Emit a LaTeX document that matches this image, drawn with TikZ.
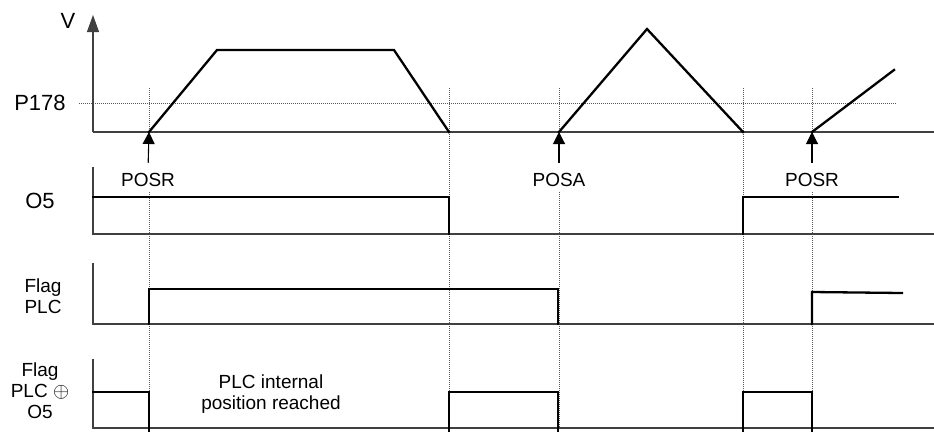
\documentclass[tikz,border=0pt]{standalone}
\usepackage{fontspec}
\setmainfont{Liberation Sans}
\usetikzlibrary{arrows.meta}

\begin{document}
\begin{tikzpicture}[x=1pt,y=-1pt,>=Latex,
  axis/.style={draw=black!75,line width=1.1pt},
  sig/.style={line width=2.3pt,line join=miter,line cap=rect},
  guide/.style={draw=black!65,line width=0.6pt,dash pattern=on 1pt off 1pt},
  posarrow/.style={-{Triangle[length=12pt,width=12pt]},line width=1.1pt,shorten <=7pt},
  big/.style={font=\fontsize{22}{24}\selectfont},
  lab/.style={font=\fontsize{19}{21}\selectfont,align=center}]
  \useasboundingbox (0,0) rectangle (934,432);

  % Event instants (start of each positioning, end of each move).
  \coordinate (s1) at (149,132);
  \coordinate (e1) at (449,132);
  \coordinate (s2) at (559,132);
  \coordinate (e2) at (743,132);
  \coordinate (s3) at (812,132);

  % Dotted guides: speed threshold and time instants.
  \draw[guide] (79,103) -- (896,103);
  \foreach \gx in {449,743}{
    \draw[guide] (\gx,88) -- (\gx,430);
  }
  \foreach \gx in {149,559,812}{
    \draw[guide] (\gx,88) -- (\gx,132);
    \draw[guide] (\gx,192) -- (\gx,430);
  }

  % Axes of the four traces.
  \draw[axis,-{Triangle[length=17pt,width=12pt]}] (93,132) -- (93,15);
  \draw[axis] (93,132) -- (934,132);
  \foreach \ytop/\ybase in {167/234,263/324,359/428}{
    \draw[axis] (93,\ytop) -- (93,\ybase) -- (934,\ybase);
  }

  % Speed profile V.
  \draw[sig] (s1) -- (217,50) -- (394,50) -- (e1);
  \draw[sig] (s2) -- (647,29) -- (e2);
  \draw[sig] (s3) -- (894,70);

  % Output O5.
  \draw[sig] (93,197) -- (449,197) -- (449,234);
  \draw[sig] (743,234) -- (743,197) -- (898,197);

  % Flag PLC.
  \draw[sig] (149,324) -- (149,289) -- (558,289) -- (558,324);
  \draw[sig] (812,324) -- (812,292) -- (902,293);

  % Flag PLC xor O5.
  \draw[sig] (93,392) -- (149,392) -- (149,431);
  \draw[sig] (449,431) -- (449,392) -- (558,392) -- (558,431);
  \draw[sig] (743,431) -- (743,392) -- (812,392) -- (812,431);

  % Trace names.
  \node[big] (vlab) at (68,21) {V};
  \node[big] (plab) at (40,103) {P178};
  \node[big] (o5lab) at (40,201) {O5};
  \node[lab] (flaglab) at (43,296) {Flag\\PLC};
  \node[lab] (xorlab) at (40,391) {Flag\\PLC {\fontsize{22}{21}\selectfont$\oplus$}\\O5};

  % Positioning commands.
  \node[lab] (posr1) at (148,180) {POSR};
  \node[lab] (posa) at (559,180) {POSA};
  \node[lab] (posr2) at (812,180) {POSR};
  \draw[posarrow] (posr1.north) -- (s1);
  \draw[posarrow] (posa.north) -- (s2);
  \draw[posarrow] (posr2.north) -- (s3);

  \node[lab] (note) at (271,394) {PLC internal\\position reached};
\end{tikzpicture}
\end{document}
